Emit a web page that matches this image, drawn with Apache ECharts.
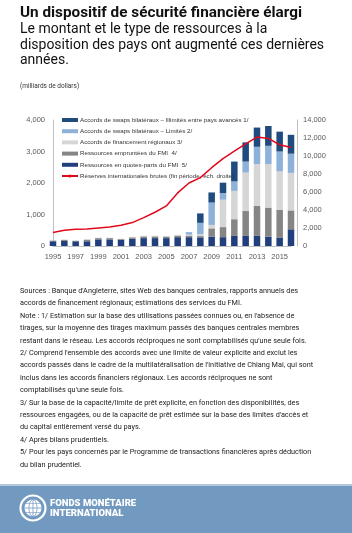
<!DOCTYPE html>
<html>
<head>
<meta charset="utf-8">
<script src="https://cdn.jsdelivr.net/npm/echarts@6/dist/echarts.min.js"></script>
<style>
  html, body { margin: 0; padding: 0; background: #fff; }
  #chart { width: 352px; height: 533px; }
</style>
</head>
<body>
<div id="chart"></div>
<script>
// années
var years = ["1995", "1996", "1997", "1998", "1999", "2000", "2001", "2002", "2003", "2004", "2005",
  "2006", "2007", "2008", "2009", "2010", "2011", "2012", "2013", "2014", "2015", "2016"];

// milliards de dollars (éch. gauche)
var quotaRes = [150, 160, 150, 150, 210, 210, 200, 230, 250, 250, 250, 280, 280, 275, 300, 280, 320, 320, 320, 300, 270, 530];
var borrowedRes = [20, 30, 15, 50, 40, 40, 20, 45, 55, 55, 50, 50, 50, 40, 260, 320, 530, 790, 950, 920, 880, 600];
var regionalArr = [5, 15, 5, 15, 15, 15, 10, 15, 20, 20, 20, 25, 30, 60, 110, 870, 900, 1220, 1330, 1380, 1220, 1190];
var swapsLimited = [0, 0, 0, 0, 0, 0, 0, 0, 0, 0, 0, 0, 80, 360, 710, 210, 300, 350, 550, 580, 630, 610];
var swapsUnlimited = [0, 0, 0, 0, 0, 0, 0, 0, 0, 0, 0, 0, 0, 300, 320, 330, 630, 610, 610, 630, 630, 600];

// réserves internationales brutes (éch. droite)
var reserves = [1500, 1750, 1850, 1900, 2000, 2100, 2300, 2600, 3150, 3750, 4450, 5900, 7000, 7600, 8700, 9700,
  10550, 11350, 12100, 11950, 11250, 10950];

var leftTicks = { min: 0, max: 4000, interval: 1000 };
var rightTicks = { min: 0, max: 14000, interval: 2000 };

var names = {
  unl: "Accords de swaps bilatéraux – Illimités entre pays avancés 1/",
  lim: "Accords de swaps bilatéraux – Limités 2/",
  reg: "Accords de financement régionaux 3/",
  bor: "Ressources empruntées du FMI  4/",
  quo: "Ressources en quotes-parts du FMI  5/",
  res: "Réserves internationales brutes (fin période, éch. droite)"
};

var notes = [
  "Sources : Banque d'Angleterre, sites Web des banques centrales, rapports annuels des",
  "accords de financement régionaux; estimations des services du FMI.",
  "Note : 1/ Estimation sur la base des utilisations passées connues ou, en l'absence de",
  "tirages, sur la moyenne des tirages maximum passés des banques centrales membres",
  "restant dans le réseau. Les accords réciproques ne sont comptabilisés qu'une seule fois.",
  "2/ Comprend l'ensemble des accords avec une limite de valeur explicite and exclut les",
  "accords passés dans le cadre de la multilatéralisation de l'initiative de Chiang Mai, qui sont",
  "inclus dans les accords financiers régionaux. Les accords réciproques ne sont",
  "comptabilisés qu'une seule fois.",
  "3/ Sur la base de la capacité/limite de prêt explicite, en fonction des disponibilités, des",
  "ressources engagées, ou de la capacité de prêt estimée sur la base des limites d'accès et",
  "du capital entièrement versé du pays.",
  "4/ Après bilans prudentiels.",
  "5/ Pour les pays concernés par le Programme de transactions financières après déduction",
  "du bilan prudentiel."
];

var axisFont = "Liberation Sans";
var myChart = echarts.init(document.getElementById("chart"));

function barSeries(name, data, color) {
  return {
    name: name,
    type: "bar",
    stack: "gfsn",
    yAxisIndex: 0,
    barWidth: 6.5,
    data: data,
    itemStyle: { color: color },
    emphasis: { disabled: true }
  };
}

var option = {
  animation: false,
  backgroundColor: "#fff",
  grid: { left: 53, right: 61, top: 120, bottom: 287 },
  legend: {
    orient: "vertical",
    left: 61,
    top: 116,
    padding: 0,
    itemWidth: 16,
    itemHeight: 4,
    itemGap: 3.2,
    textStyle: { fontSize: 6.2, fontFamily: axisFont, color: "#333", lineHeight: 8, padding: [0, 0, 0, -3] },
    data: [
      { name: names.unl, icon: "rect" },
      { name: names.lim, icon: "rect" },
      { name: names.reg, icon: "rect" },
      { name: names.bor, icon: "rect" },
      { name: names.quo, icon: "rect" },
      { name: names.res }
    ]
  },
  xAxis: {
    type: "category",
    data: years,
    boundaryGap: false,
    axisLine: { lineStyle: { color: "#BFBFBF" } },
    axisTick: { show: false },
    axisLabel: { interval: 1, color: "#595959", fontSize: 7.5, fontFamily: axisFont, margin: 7 }
  },
  yAxis: [
    {
      type: "value",
      min: leftTicks.min,
      max: leftTicks.max,
      interval: leftTicks.interval,
      axisLine: { show: true, lineStyle: { color: "#BFBFBF" } },
      axisTick: { show: false },
      splitLine: { show: false },
      axisLabel: {
        color: "#595959", fontSize: 7.5, fontFamily: axisFont, margin: 8,
        formatter: function (v) { return v.toLocaleString("en-US"); }
      }
    },
    {
      type: "value",
      position: "right",
      offset: 6,
      min: rightTicks.min,
      max: rightTicks.max,
      interval: rightTicks.interval,
      axisLine: { show: true, lineStyle: { color: "#BFBFBF" } },
      axisTick: { show: false },
      splitLine: { show: false },
      axisLabel: {
        color: "#595959", fontSize: 7.5, fontFamily: axisFont, margin: 6,
        formatter: function (v) { return v.toLocaleString("en-US"); }
      }
    }
  ],
  series: [
    barSeries(names.quo, quotaRes, "#213F7D"),
    barSeries(names.bor, borrowedRes, "#858585"),
    barSeries(names.reg, regionalArr, "#D6D6D6"),
    barSeries(names.lim, swapsLimited, "#8EB1DA"),
    barSeries(names.unl, swapsUnlimited, "#1F4B7E"),
    {
      name: names.res,
      type: "line",
      yAxisIndex: 1,
      data: reserves,
      symbol: "none",
      z: 5,
      lineStyle: { color: "#E2081B", width: 1.5 },
      itemStyle: { color: "#E2081B" }
    }
  ],
  graphic: [
    {
      type: "text", left: 20, top: 6,
      style: { text: "Un dispositif de sécurité financière élargi", font: "bold 15.3px Roboto", fill: "#111" }
    },
    {
      type: "text", left: 20, top: 22,
      style: {
        text: "Le montant et le type de ressources à la\ndisposition des pays ont augmenté ces dernières\nannées.",
        font: "14px Roboto", lineHeight: 15.5, fill: "#111"
      }
    },
    {
      type: "text", left: 20, top: 83,
      style: { text: "(milliards de dollars)", font: "6.5px Roboto", fill: "#333" }
    },
    {
      type: "text", left: 20, top: 285,
      style: { text: notes.join("\n"), font: "7.3px Roboto", lineHeight: 12.4, fill: "#222" }
    },
    // bandeau du bas
    { type: "rect", shape: { x: 0, y: 485, width: 352, height: 48 }, style: { fill: "#7299C0" } },
    { type: "rect", shape: { x: 0, y: 484, width: 352, height: 2 }, style: { fill: "#B3C8DE" } },
    {
      type: "group",
      children: [
        { type: "circle", shape: { cx: 33, cy: 508, r: 12.5 }, style: { fill: "none", stroke: "#fff", lineWidth: 2.2 } },
        { type: "circle", shape: { cx: 33, cy: 508, r: 8.5 }, style: { fill: "#fff" } },
        { type: "ellipse", shape: { cx: 33, cy: 508, rx: 4, ry: 8.5 }, style: { fill: "none", stroke: "#7299C0", lineWidth: 0.8 } },
        { type: "line", shape: { x1: 24.5, y1: 508, x2: 41.5, y2: 508 }, style: { stroke: "#7299C0", lineWidth: 0.8 } },
        { type: "line", shape: { x1: 33, y1: 499.5, x2: 33, y2: 516.5 }, style: { stroke: "#7299C0", lineWidth: 0.8 } },
        { type: "line", shape: { x1: 26, y1: 503.5, x2: 40, y2: 503.5 }, style: { stroke: "#7299C0", lineWidth: 0.6 } },
        { type: "line", shape: { x1: 26, y1: 512.5, x2: 40, y2: 512.5 }, style: { stroke: "#7299C0", lineWidth: 0.6 } }
      ]
    },
    {
      type: "text", left: 50, top: 498,
      style: { text: "FONDS MONÉTAIRE\nINTERNATIONAL", font: "900 9.5px Roboto", lineHeight: 10.5, fill: "#fff" }
    }
  ]
};

myChart.setOption(option);
</script>
</body>
</html>
